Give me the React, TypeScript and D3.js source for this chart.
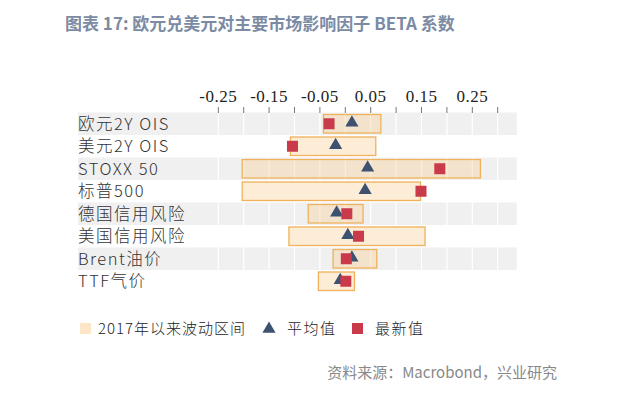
import * as d3 from "d3";
import React from "react";

// factor names, top to bottom
const factors = ["欧元2Y OIS", "美元2Y OIS", "STOXX 50", "标普500", "德国信用风险", "美国信用风险", "Brent油价", "TTF气价"];
// range since 2017
const rangeLow = [-0.043, -0.108, -0.203, -0.203, -0.073, -0.111, -0.024, -0.053];
const rangeHigh = [0.07, 0.06, 0.266, 0.148, 0.035, 0.157, 0.062, 0.018];
// average beta
const avgBeta = [0.013, -0.019, 0.044, 0.039, -0.017, 0.005, 0.013, -0.01];
// latest beta
const latestBeta = [-0.032, -0.104, 0.186, 0.149, 0.003, 0.026, 0.002, 0.001];
const tickValues = [-0.25, -0.2, -0.15, -0.1, -0.05, 0, 0.05, 0.1, 0.15, 0.2, 0.25, 0.3];
const labelTicks = [-0.25, -0.15, -0.05, 0.05, 0.15, 0.25];

const W = 625, H = 397;
const CJK = "'Noto Sans CJK SC', 'Noto Sans', sans-serif";

export default function App() {
  const x = d3.scaleLinear().domain([-0.25, 0.3]).range([218.3, 497.7]);
  const y = d3.scaleBand<string>().domain(factors).range([112.5, 292.5]);
  const bandLeft = 78;
  const bandRight = x(0.3375);
  const barPad = 2;
  const tri = d3.symbol().type(d3.symbolTriangle).size(75)();
  const fmt = (v: number) => d3.format(".2f")(v).replace("−", "-");

  return (
    <svg width={W} height={H} style={{ position: "absolute", left: 0, top: 0, background: "#fff" }}>
      <text x={65} y={30} fontFamily={CJK} fontWeight={700} fontSize={17} fill="#7b8ba3">
        图表 17: 欧元兑美元对主要市场影响因子 BETA 系数
      </text>

      {/* striped rows */}
      {factors.map((f, i) =>
        i % 2 === 0 ? (
          <rect key={f} x={bandLeft} y={y(f)} width={bandRight - bandLeft} height={y.bandwidth()} fill="#f0f0f0" />
        ) : null
      )}
      {tickValues.map((t) => (
        <line key={"g" + t} x1={x(t)} x2={x(t)} y1={y.range()[0]} y2={y.range()[1]} stroke="#fff" strokeWidth={1.2} />
      ))}

      {/* axis on top */}
      {tickValues.map((t) => (
        <line key={"t" + t} x1={x(t)} x2={x(t)} y1={107} y2={113} stroke="#777" strokeWidth={1} />
      ))}
      {labelTicks.map((t) => (
        <text key={"l" + t} x={x(t)} y={102} textAnchor="middle" fontFamily="'Liberation Serif', serif" fontSize={17} letterSpacing={0.5} fill="#222">
          {fmt(t)}
        </text>
      ))}

      {/* row labels */}
      {factors.map((f) => (
        <text key={"n" + f} x={bandLeft} y={y(f)! + y.bandwidth() / 2 + 6} fontFamily={CJK} fontWeight={300} fontSize={16.5} letterSpacing={1.5} fill="#333">
          {f}
        </text>
      ))}

      {/* range bars */}
      {factors.map((f, i) => (
        <rect key={"b" + f} x={x(rangeLow[i])} y={y(f)! + barPad} width={x(rangeHigh[i]) - x(rangeLow[i])} height={y.bandwidth() - 2 * barPad}
          fill="#f8c98a" fillOpacity={0.35} stroke="#efb25a" strokeWidth={1.3} />
      ))}

      {/* average */}
      {factors.map((f, i) => (
        <path key={"a" + f} d={tri!} transform={`translate(${x(avgBeta[i])},${y(f)! + y.bandwidth() / 2 - 1})`} fill="#3d5170" />
      ))}
      {/* latest */}
      {factors.map((f, i) => (
        <rect key={"s" + f} x={x(latestBeta[i]) - 5.5} y={y(f)! + y.bandwidth() / 2 - 5.5} width={11} height={11} fill="#c93a4b" />
      ))}

      {/* legend */}
      <rect x={80} y={323} width={11} height={11} fill="#fde6c8" />
      <text x={98} y={334} fontFamily={CJK} fontWeight={300} fontSize={15} letterSpacing={1} fill="#222">2017年以来波动区间</text>
      <path d={tri!} transform="translate(269,329)" fill="#3d5170" />
      <text x={287} y={334} fontFamily={CJK} fontWeight={300} fontSize={15} letterSpacing={1.5} fill="#222">平均值</text>
      <rect x={352} y={323} width={11} height={11} fill="#c93a4b" />
      <text x={375} y={334} fontFamily={CJK} fontWeight={300} fontSize={15} letterSpacing={1.5} fill="#222">最新值</text>

      <text x={557} y={378} textAnchor="end" fontFamily={CJK} fontSize={15} fill="#888">资料来源：Macrobond，兴业研究</text>
    </svg>
  );
}
